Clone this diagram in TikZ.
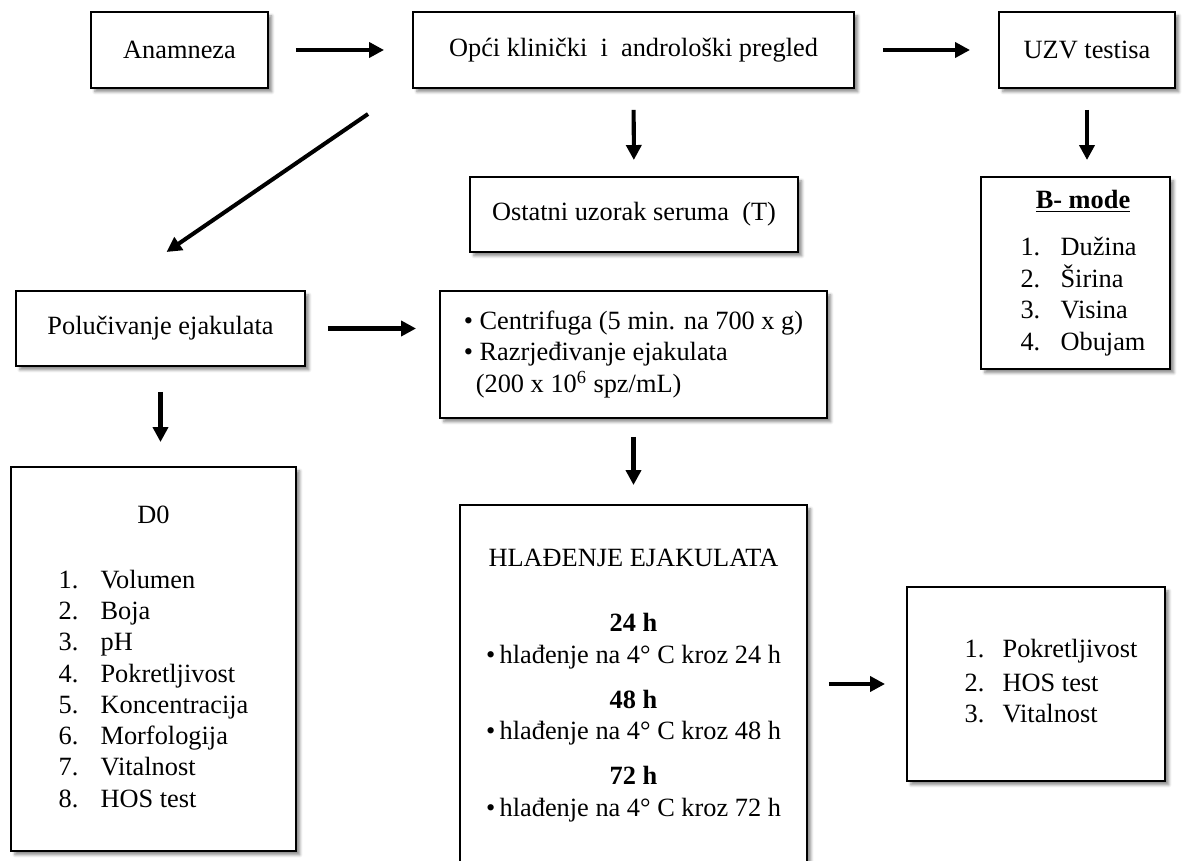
\documentclass[tikz,border=0pt]{standalone}
\usepackage{fontspec}
\setmainfont{Liberation Serif}
\usetikzlibrary{arrows.meta,calc,shadows.blur}

\tikzset{
  okvir/.style={draw, line width=0.7pt, fill=white, inner sep=0pt, outer sep=0pt,
    blur shadow={shadow xshift=2.2pt, shadow yshift=-2.2pt, shadow blur steps=5, shadow blur radius=1.6pt, shadow opacity=45}},
  strelica/.style={line width=2.3pt, -{Triangle[length=0.3cm, width=0.3cm]}}
}

\begin{document}
\begin{tikzpicture}[x=0.02cm, y=-0.02cm, font=\fontsize{15}{17.8}\selectfont]
\useasboundingbox (0,0) rectangle (1199,861);

% gornji red
\node[okvir, minimum width=3.54cm, minimum height=1.52cm] (anam) at (179.5,50) {Anamneza};
\node[okvir, minimum width=8.82cm, minimum height=1.52cm] (opci) at (633.5,50) {Opći klinički \ i \ androloški pregled};
\node[okvir, minimum width=3.52cm, minimum height=1.52cm] (uzv) at (1087,50) {UZV testisa};

\node[okvir, minimum width=6.56cm, minimum height=1.50cm] (serum) at (634,214.5) {Ostatni uzorak seruma \ (T)};
\node[okvir, minimum width=3.78cm, minimum height=3.84cm] (bmode) at (1075.5,273) {%
  \hspace*{0.3cm}\begin{tabular}{@{}p{0.8cm}@{}l@{}}
    \multicolumn{2}{c}{\underline{\textbf{B- mode}}}\\[0.32cm]
    1. & Dužina\\
    2. & Širina\\
    3. & Visina\\
    4. & Obujam
  \end{tabular}};

% ejakulat
\node[okvir, minimum width=5.78cm, minimum height=1.50cm] (polu) at (160.5,328.5) {Polučivanje ejakulata};
\node[okvir, minimum width=7.74cm, minimum height=2.54cm, align=left] (centr) at (633.5,354.5) {%
  \textbullet\ Centrifuga (5 min. na 700 x g)\\
  \textbullet\ Razrjeđivanje ejakulata\\
  \hspace*{0.24cm}(200 x 10\textsuperscript{6} spz/mL)};

\node[okvir, minimum width=5.70cm, minimum height=7.68cm] (dnula) at (153.5,659) {%
  \begin{tabular}{@{}p{0.84cm}@{}l@{}}
    \multicolumn{2}{c}{D0}\\[0.67cm]
    1. & Volumen\\
    2. & Boja\\
    3. & pH\\
    4. & Pokretljivost\\
    5. & Koncentracija\\
    6. & Morfologija\\
    7. & Vitalnost\\
    8. & HOS test
  \end{tabular}};

\node[okvir, minimum width=6.94cm, minimum height=7.22cm, align=center] (hlad) at (633.5,685.5) {%
  HLAĐENJE EJAKULATA\\[0.68cm]
  \textbf{24 h}\\
  \textbullet\,hlađenje na 4° C kroz 24 h\\[0.28cm]
  \textbf{48 h}\\
  \textbullet\,hlađenje na 4° C kroz 48 h\\[0.28cm]
  \textbf{72 h}\\
  \textbullet\,hlađenje na 4° C kroz 72 h};

\node[okvir, minimum width=5.16cm, minimum height=3.88cm] (testovi) at (1036,684) {%
  \hspace*{0.6cm}\begin{tabular}{@{}p{0.76cm}@{}l@{}}
    1. & Pokretljivost\\[0.04cm]
    2. & HOS test\\
    3. & Vitalnost
  \end{tabular}};

% strelice
\draw[strelica, shorten <=0.56cm, shorten >=0.58cm] (anam) -- (opci);
\draw[strelica, shorten <=0.58cm, shorten >=0.58cm] (opci) -- (uzv);
\draw[strelica, shorten <=0.44cm, shorten >=0.34cm] (opci) -- (serum);
\draw[strelica, shorten <=0.44cm, shorten >=0.34cm] (uzv.south) -- (uzv.south |- bmode.north);
\draw[strelica] ($(opci.south west)+(-45,26)$) -- ($(polu.north)+(6,-39)$);
\draw[strelica, shorten <=0.46cm, shorten >=0.48cm] (polu.east) -- (polu.east -| centr.west);
\draw[strelica, shorten <=0.52cm, shorten >=0.50cm] (polu.south) -- (polu.south |- dnula.north);
\draw[strelica, shorten <=0.38cm, shorten >=0.40cm] (centr) -- (hlad);
\draw[strelica, shorten <=0.44cm, shorten >=0.44cm] (hlad.east |- testovi.west) -- (testovi.west);
\end{tikzpicture}
\end{document}
